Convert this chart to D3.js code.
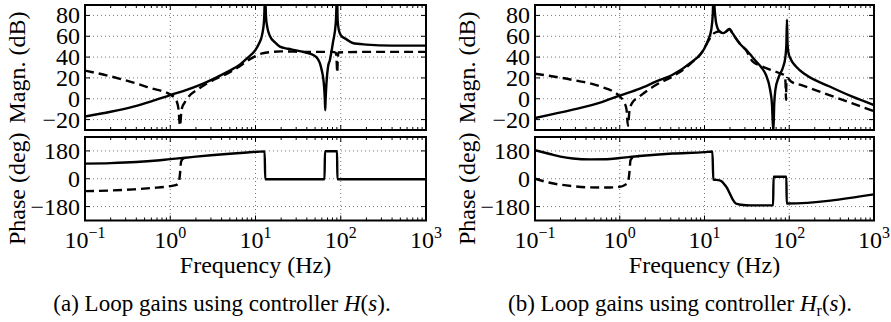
<!DOCTYPE html>
<html>
<head>
<meta charset="utf-8">
<script src="https://cdn.jsdelivr.net/npm/d3@7/dist/d3.min.js"></script>
</head>
<body style="margin:0">
<script>
// ---- data (frequency in Hz, magnitude in dB, phase in deg) ----
// (a) controller H(s)
var aMagSolidF = [0.1, 0.2, 0.37, 0.6, 1, 1.5, 2.2, 3.5, 5, 6.6, 8, 10, 11, 12, 12.6, 12.95, 13.3, 13.8, 14.8, 17, 19.3, 24, 30, 40, 47.6, 54, 57, 60, 62, 64, 65, 65.8, 66.5, 68, 71, 74.5, 81, 87.5, 90.5, 92, 95, 100, 117, 138, 200, 400, 1000];
var aMagSolid  = [-17, -12.5, -7.5, -2.5, 3.5, 8, 13, 20.5, 27, 33, 39, 47, 53, 62, 75, 100, 78, 68, 60, 54, 50, 48, 46.5, 44, 42, 38, 34, 27, 21, 10, 0, -11, 0, 15, 31, 37, 54, 73, 100, 75, 66, 61, 57, 53.5, 52, 51, 51];
var aMagDashF  = [0.1, 0.2, 0.37, 0.6, 1, 1.15, 1.25, 1.3, 1.36, 1.55, 2.2, 3.2, 5, 6.6, 8, 10, 12, 16, 20, 40, 80, 88, 90, 91, 92, 94, 200, 1000];
var aMagDash   = [27, 21.5, 15.5, 10, 4, 0, -10, -26, -10, -1, 10, 18, 25.5, 31.5, 36.5, 41, 43.5, 45, 45.5, 45, 45, 44, 32, 25, 35, 44.5, 45, 45];
var aPhSolidF  = [0.1, 0.2, 0.4, 0.7, 1, 1.5, 2, 3, 5, 8, 12.8, 13, 64.5, 65.3, 90.5, 91.3, 1000];
var aPhSolid   = [98, 101, 108, 118, 127, 136, 143, 152, 162, 170, 177, -3, -3, 178, 178, -3, -3];
var aPhDashF   = [0.1, 0.2, 0.37, 0.6, 1, 1.18, 1.26, 1.3, 1.34, 1.4, 1.6];
var aPhDash    = [-80, -76, -69, -60, -48, -40, -25, 30, 110, 128, 138];

// (b) controller Hr(s)
var bMagSolidF = [0.1, 0.28, 0.6, 1, 1.7, 2.7, 4.2, 6.7, 10, 11, 12, 12.5, 12.8, 13.2, 13.7, 15, 16.5, 18, 19.7, 21, 22.6, 26, 31, 40.5, 47, 53, 59.5, 62.5, 64.9, 66.5, 68.6, 74.5, 85, 90, 92.5, 94, 95.5, 98, 105, 120, 157, 295, 556, 1000];
var bMagSolid  = [-18.5, -10.5, -3.5, 3, 9.5, 16.6, 23, 34, 48.5, 56, 66, 80, 100, 85, 73, 64.7, 63, 64.5, 67, 64, 60, 53, 47, 36, 30, 23, 8.6, -5, -32, -5, 8.6, 20, 31, 40, 52, 76, 52, 44, 37.5, 31, 23, 12, 2, -6];
var bMagDashF  = [0.1, 0.28, 0.58, 1, 1.12, 1.2, 1.25, 1.3, 1.4, 1.7, 2.7, 4.2, 6.7, 10, 11, 12, 13, 15, 16.5, 18, 19.7, 21, 22.6, 26, 31, 36.7, 45, 60, 80, 89, 90.8, 91.5, 92.3, 94, 105, 142, 556, 1000];
var bMagDash   = [24, 18, 12, 2.2, -3, -10, -26, -12, -4, 2, 13.4, 21.4, 33, 48.5, 55, 60, 63, 64.7, 63, 64.5, 67, 64, 60, 53, 46.5, 36, 32, 27.8, 24, 22, 10, -1, 12, 20, 16.6, 12.8, -4.4, -12];
var bPhSolidF  = [0.1, 0.15, 0.2, 0.28, 0.45, 0.7, 1, 1.7, 4.2, 10, 12.4, 12.7, 15, 16, 17.2, 18.5, 19.7, 21.5, 23.4, 27, 35, 64.5, 65.3, 92.5, 93.3, 1000];
var bPhSolid   = [185, 160, 143, 131, 125, 126, 134, 147, 163, 172, 176, -5, -10, -18, -37, -60, -91, -134, -160, -168, -172, -172, 13, 13, -160, -101];
var bPhDashF   = [0.1, 0.15, 0.28, 0.45, 0.7, 1, 1.15, 1.25, 1.3, 1.34, 1.45, 1.7];
var bPhDash    = [0, -26, -48, -56, -57, -52, -40, -25, 40, 120, 140, 147];

// ticks
var freqTicks = [0.1, 1, 10, 100, 1000];
var freqExp = ["\u22121", "0", "1", "2", "3"];
var magTicks = [-20, 0, 20, 40, 60, 80];
var phaseTicks = [-180, 0, 180];
var captions = ["a", "b"];

var w = 891, h = 322;
var magTop = 5, magBot = 130, phTop = 137, phBot = 220.5;
var FONT = "Liberation Serif";

var svg = d3.select("body").append("svg")
    .attr("width", w)
    .attr("height", h);

function zip(f, v) {
    return f.map(function(d, i) { return [d, v[i]]; });
}

var panels = [
    {x0: 85, x1: 426, mag: [zip(aMagSolidF, aMagSolid), zip(aMagDashF, aMagDash)],
     ph: [zip(aPhSolidF, aPhSolid), zip(aPhDashF, aPhDash)]},
    {x0: 535, x1: 874, mag: [zip(bMagSolidF, bMagSolid), zip(bMagDashF, bMagDash)],
     ph: [zip(bPhSolidF, bPhSolid), zip(bPhDashF, bPhDash)]}
];

var minorTicks = [];
for (var e = -1; e < 3; e++) {
    for (var m = 2; m < 10; m++) minorTicks.push(m * Math.pow(10, e));
}

function drawAxes(p, idx, yScale, yTicks, top, bot, series, name) {
    var xScale = d3.scaleLog().domain([0.1, 1000]).range([p.x0, p.x1]);
    var g = svg.append("g");

    // dotted grid
    g.selectAll(".gx").data(freqTicks.slice(1, -1)).enter().append("line")
        .attr("x1", function(d) { return xScale(d); })
        .attr("x2", function(d) { return xScale(d); })
        .attr("y1", top).attr("y2", bot)
        .attr("stroke", "#555").attr("stroke-width", 0.8)
        .attr("stroke-dasharray", "1,3");
    g.selectAll(".gy").data(yTicks).enter().append("line")
        .attr("x1", p.x0).attr("x2", p.x1)
        .attr("y1", function(d) { return yScale(d); })
        .attr("y2", function(d) { return yScale(d); })
        .attr("stroke", "#555").attr("stroke-width", 0.8)
        .attr("stroke-dasharray", "1,3");

    // inward ticks
    var xt = freqTicks.map(function(d) { return {v: d, l: 5}; })
        .concat(minorTicks.map(function(d) { return {v: d, l: 3}; }));
    [top, bot].forEach(function(yy, k) {
        g.selectAll(".tx" + k).data(xt).enter().append("line")
            .attr("x1", function(d) { return xScale(d.v); })
            .attr("x2", function(d) { return xScale(d.v); })
            .attr("y1", yy)
            .attr("y2", function(d) { return k === 0 ? yy + d.l : yy - d.l; })
            .attr("stroke", "#000").attr("stroke-width", 1);
    });
    [p.x0, p.x1].forEach(function(xx, k) {
        g.selectAll(".ty" + k).data(yTicks).enter().append("line")
            .attr("x1", xx)
            .attr("x2", k === 0 ? xx + 5 : xx - 5)
            .attr("y1", function(d) { return yScale(d); })
            .attr("y2", function(d) { return yScale(d); })
            .attr("stroke", "#000").attr("stroke-width", 1);
    });

    // curves, clipped to the box
    var clipId = "clip" + idx + name;
    svg.append("clipPath").attr("id", clipId).append("rect")
        .attr("x", p.x0).attr("y", top)
        .attr("width", p.x1 - p.x0).attr("height", bot - top);
    var line = d3.line()
        .x(function(d) { return xScale(d[0]); })
        .y(function(d) { return yScale(d[1]); })
        .curve(d3.curveMonotoneX);
    var cg = svg.append("g").attr("clip-path", "url(#" + clipId + ")");
    // dashed first, solid on top
    cg.append("path").datum(series[1])
        .attr("d", line).attr("fill", "none")
        .attr("stroke", "#000").attr("stroke-width", 2.4)
        .attr("stroke-dasharray", "9,5");
    cg.append("path").datum(series[0])
        .attr("d", line).attr("fill", "none")
        .attr("stroke", "#000").attr("stroke-width", 2.4)
        .attr("stroke-linejoin", "round");

    // box
    svg.append("rect")
        .attr("x", p.x0).attr("y", top)
        .attr("width", p.x1 - p.x0).attr("height", bot - top)
        .attr("fill", "none").attr("stroke", "#000").attr("stroke-width", 2);

    // y tick labels
    svg.selectAll(".yl" + idx + name).data(yTicks).enter().append("text")
        .attr("x", p.x0 - 5)
        .attr("y", function(d) { return yScale(d); })
        .attr("dy", "0.33em")
        .attr("text-anchor", "end")
        .attr("font-family", FONT)
        .attr("font-size", 24)
        .text(function(d) { return d < 0 ? "\u2212" + Math.abs(d) : d; });

    return xScale;
}

panels.forEach(function(p, idx) {
    var magScale = d3.scaleLinear().domain([-30, 90]).range([magBot, magTop]);
    var phScale = d3.scaleLinear().domain([-270, 270]).range([phBot, phTop]);
    drawAxes(p, idx, magScale, magTicks, magTop, magBot, p.mag, "m");
    var xScale = drawAxes(p, idx, phScale, phaseTicks, phTop, phBot, p.ph, "p");

    // x tick labels 10^n, whole label centred on the tick
    var xl = svg.selectAll(".xl" + idx).data(freqTicks).enter().append("text")
        .attr("x", function(d) { return xScale(d); })
        .attr("y", 248)
        .attr("text-anchor", "middle")
        .attr("font-family", FONT)
        .attr("font-size", 24);
    xl.append("tspan").text("10");
    xl.append("tspan")
        .attr("dy", -10)
        .attr("font-size", 16)
        .text(function(d, i) { return freqExp[i]; });

    var xc = (p.x0 + p.x1) / 2;
    svg.append("text")
        .attr("x", xc).attr("y", 273)
        .attr("text-anchor", "middle")
        .attr("font-family", FONT)
        .attr("font-size", 24)
        .text("Frequency (Hz)");

    svg.append("text")
        .attr("transform", "translate(" + (p.x0 - 60) + "," + ((magTop + magBot) / 2) + ") rotate(-90)")
        .attr("text-anchor", "middle")
        .attr("font-family", FONT)
        .attr("font-size", 24)
        .text("Magn. (dB)");
    svg.append("text")
        .attr("transform", "translate(" + (p.x0 - 60) + "," + ((phTop + phBot) / 2 + 10) + ") rotate(-90)")
        .attr("text-anchor", "middle")
        .attr("font-family", FONT)
        .attr("font-size", 24)
        .text("Phase (deg)");

    // caption
    var cap = svg.append("text")
        .attr("x", idx === 0 ? 222 : 680)
        .attr("y", 311)
        .attr("text-anchor", "middle")
        .attr("font-family", FONT)
        .attr("font-size", 23);
    cap.append("tspan").text("(" + captions[idx] + ") Loop gains using controller ");
    cap.append("tspan").attr("font-style", "italic").text("H");
    if (idx === 1) {
        cap.append("tspan").attr("font-size", 16).attr("dy", 5).text("r");
        cap.append("tspan").attr("dy", -5).text("(");
    } else {
        cap.append("tspan").text("(");
    }
    cap.append("tspan").attr("font-style", "italic").text("s");
    cap.append("tspan").text(").");
});
</script>
</body>
</html>
